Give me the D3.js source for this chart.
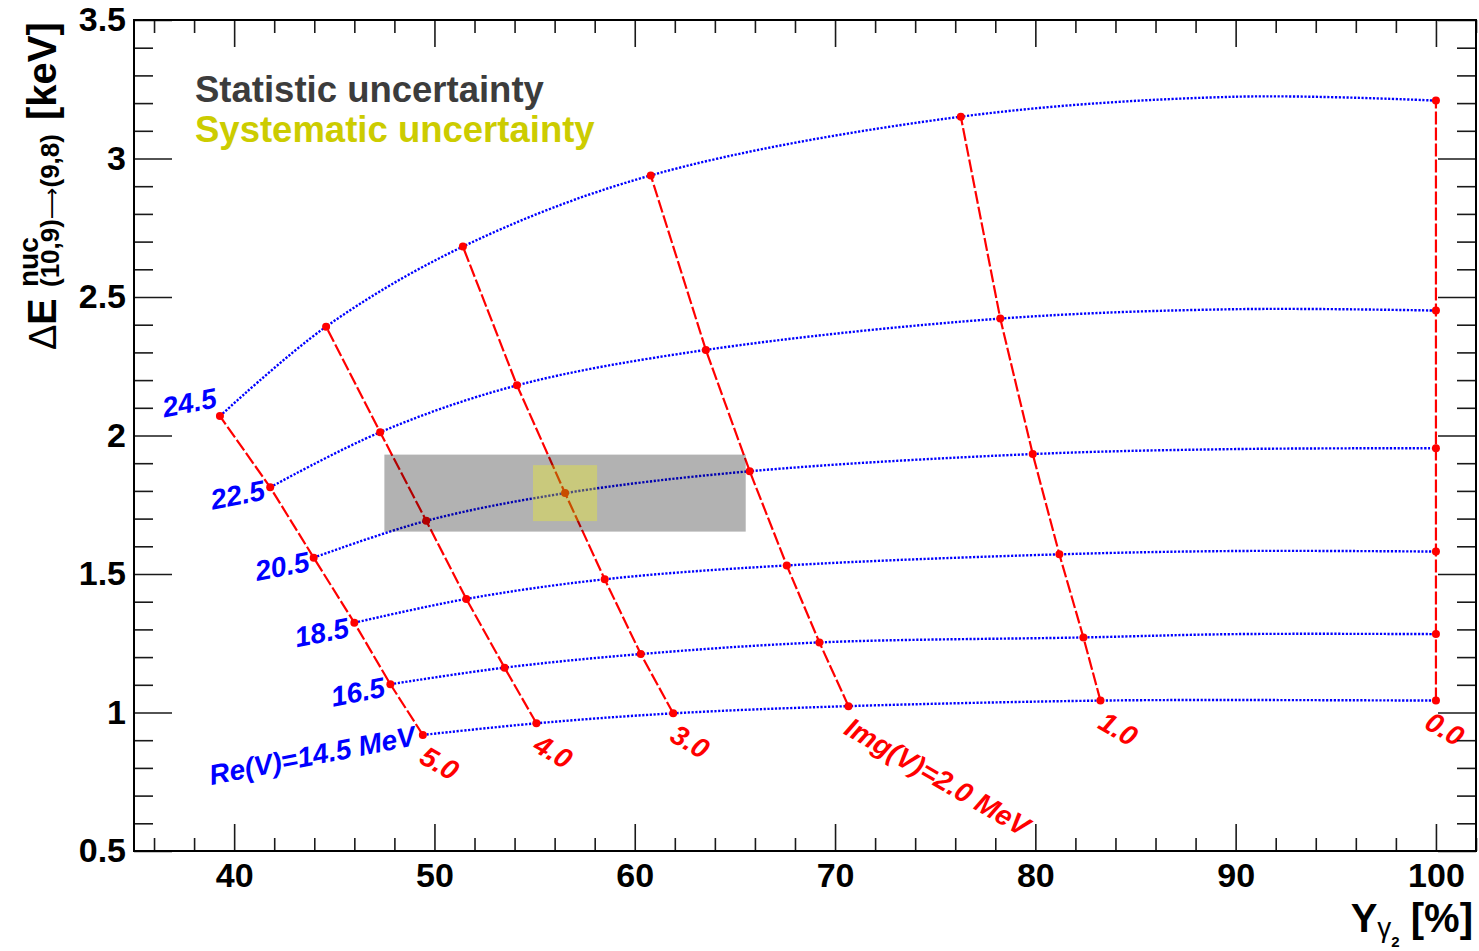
<!DOCTYPE html>
<html>
<head>
<meta charset="utf-8">
<script src="https://cdn.jsdelivr.net/npm/d3@7"></script>
<style>
  html, body { margin: 0; padding: 0; background: #fff; }
  svg { display: block; font-family: "Liberation Sans", Arial, Helvetica, sans-serif; }
</style>
</head>
<body>
<svg id="chart" width="1479" height="951"></svg>
<script>
// Grid of calculated energy shifts: curves of constant Re(V), lines of constant Img(V)
const reLevels  = [14.5, 16.5, 18.5, 20.5, 22.5, 24.5];
const imgLevels = [5.0, 4.0, 3.0, 2.0, 1.0, 0.0];

// Yield Y_gamma2 [%] and shift [keV] along each Re(V) curve, ordered by imgLevels
const yieldRe145 = [49.42, 55.09, 61.92, 70.67, 83.25, 100];
const shiftRe145 = [0.919, 0.961, 0.997, 1.023, 1.043, 1.043];
const yieldRe165 = [47.80, 53.50, 60.30, 69.22, 82.40, 100];
const shiftRe165 = [1.102, 1.162, 1.211, 1.253, 1.271, 1.283];
const yieldRe185 = [46.00, 51.59, 58.50, 67.59, 81.20, 100];
const shiftRe185 = [1.324, 1.410, 1.481, 1.531, 1.571, 1.581];
const yieldRe205 = [43.97, 49.59, 56.52, 65.74, 79.87, 100];
const shiftRe205 = [1.559, 1.692, 1.792, 1.871, 1.933, 1.954];
const yieldRe225 = [41.80, 47.29, 54.12, 63.55, 78.25, 100];
const shiftRe225 = [1.813, 2.012, 2.181, 2.309, 2.422, 2.451];
const yieldRe245 = [39.29, 44.59, 51.42, 60.80, 76.28, 100];
const shiftRe245 = [2.070, 2.393, 2.682, 2.939, 3.151, 3.209];

// Additional sample of each Re(V) curve between Img(V)=1.0 and Img(V)=0.0
const midYield = 90;
const midShift = [1.045, 1.283, 1.583, 1.951, 2.456, 3.223];

// Labels
const reLabels  = ["Re(V)=14.5 MeV", "16.5", "18.5", "20.5", "22.5", "24.5"];
const imgLabels = ["5.0", "4.0", "3.0", "Img(V)=2.0 MeV", "1.0", "0.0"];

// Measurement with statistical and systematic uncertainties
const measYield = 56.52, measShift = 1.792;
const statErrYield = 9.02, statErrShift = 0.139;
const sysErrYield = 1.60, sysErrShift = 0.101;

// Axes
const xMajorTicks = [40, 50, 60, 70, 80, 90, 100];
const xTickLabels = ["40", "50", "60", "70", "80", "90", "100"];
const yMajorTicks = [0.5, 1, 1.5, 2, 2.5, 3, 3.5];
const yTickLabels = ["0.5", "1", "1.5", "2", "2.5", "3", "3.5"];

// ---------------------------------------------------------------
const yields = [yieldRe145, yieldRe165, yieldRe185, yieldRe205, yieldRe225, yieldRe245];
const shifts = [shiftRe145, shiftRe165, shiftRe185, shiftRe205, shiftRe225, shiftRe245];

const frame = { left: 134, right: 1476, top: 20, bottom: 851 };
const x = d3.scaleLinear().domain([35, 102]).range([frame.left, frame.right]);
const y = d3.scaleLinear().domain([0.5, 3.5]).range([frame.bottom, frame.top]);

const svg = d3.select("#chart");
const BLUE = "#0000ff", RED = "#ff0000";

// --- Re(V) curves (blue, dotted, smooth)
const reLine = d3.line().x(d => x(d[0])).y(d => y(d[1])).curve(d3.curveCatmullRom.alpha(0.5));
const reCurves = reLevels.map((re, k) => {
  const pts = yields[k].map((v, i) => [v, shifts[k][i]]);
  pts.splice(pts.length - 1, 0, [midYield, midShift[k]]);
  return pts;
});
svg.append("g").selectAll("path").data(reCurves).join("path")
  .attr("d", reLine)
  .attr("fill", "none").attr("stroke", BLUE).attr("stroke-width", 2.4)
  .attr("stroke-dasharray", "2.2,1.6");

// --- Img(V) lines (red, dashed, straight)
const imgLine = d3.line().x(d => x(d[0])).y(d => y(d[1]));
const imgCurves = imgLevels.map((im, i) => reLevels.map((re, k) => [yields[k][i], shifts[k][i]]));
svg.append("g").selectAll("path").data(imgCurves).join("path")
  .attr("d", imgLine)
  .attr("fill", "none").attr("stroke", RED).attr("stroke-width", 2.2)
  .attr("stroke-dasharray", "13,3");

// --- grid nodes
const nodes = [];
reLevels.forEach((re, k) => imgLevels.forEach((im, i) => nodes.push([yields[k][i], shifts[k][i]])));
svg.append("g").selectAll("circle").data(nodes).join("circle")
  .attr("cx", d => x(d[0])).attr("cy", d => y(d[1])).attr("r", 4)
  .attr("fill", RED);

// --- uncertainty boxes
svg.append("rect")
  .attr("x", x(measYield - statErrYield)).attr("y", y(measShift + statErrShift))
  .attr("width", x(measYield + statErrYield) - x(measYield - statErrYield))
  .attr("height", y(measShift - statErrShift) - y(measShift + statErrShift))
  .attr("fill", "#000").attr("fill-opacity", 0.3);
svg.append("rect")
  .attr("x", x(measYield - sysErrYield)).attr("y", y(measShift + sysErrShift))
  .attr("width", x(measYield + sysErrYield) - x(measYield - sysErrYield))
  .attr("height", y(measShift - sysErrShift) - y(measShift + sysErrShift))
  .attr("fill", "#ffff00").attr("fill-opacity", 0.3);

// --- curve labels
const reNudge = [[-6, 10], [-4, 12], [-4, 14], [-3, 13], [-4, 12], [-2, -9]];
svg.append("g").selectAll("text").data(reLabels).join("text")
  .attr("transform", (d, k) => {
    const px = x(yields[k][0]) + reNudge[k][0], py = y(shifts[k][0]) + reNudge[k][1];
    return `translate(${px},${py}) rotate(-11)`;
  })
  .attr("text-anchor", "end").attr("font-size", 28).attr("font-weight", "bold")
  .attr("font-style", "italic").attr("fill", BLUE).text(d => d);

const imgNudge = [-5, -5, -5, -6, -4, -13];
svg.append("g").selectAll("text").data(imgLabels).join("text")
  .attr("transform", (d, i) => {
    const px = x(yieldRe145[i]) + imgNudge[i], py = y(shiftRe145[i]) + 27;
    return `translate(${px},${py}) rotate(30)`;
  })
  .attr("text-anchor", "start").attr("font-size", 28).attr("font-weight", "bold")
  .attr("font-style", "italic").attr("fill", RED).text(d => d);

// --- axes and frame
function styleAxis(g) {
  g.select(".domain").remove();
  g.selectAll(".tick line").attr("stroke", "#1a1a1a").attr("stroke-width", 1.6);
  g.selectAll(".tick text").attr("font-size", 34).attr("font-weight", "bold").attr("fill", "#000")
    .attr("font-family", "'Liberation Sans', Arial, Helvetica, sans-serif");
}
const xMinor = d3.range(36, 102.01, 2).filter(v => !xMajorTicks.includes(v));
const yMinor = d3.range(6, 35, 1).map(v => v / 10).filter(v => !yMajorTicks.includes(v));

svg.append("g").attr("transform", `translate(0,${frame.bottom})`)
  .call(d3.axisBottom(x).tickValues(xMajorTicks).tickFormat((d, i) => xTickLabels[i]).tickSize(-27).tickPadding(12))
  .call(styleAxis);
svg.append("g").attr("transform", `translate(0,${frame.bottom})`)
  .call(d3.axisBottom(x).tickValues(xMinor).tickFormat("").tickSize(-13)).call(styleAxis);
svg.append("g").attr("transform", `translate(0,${frame.top})`)
  .call(d3.axisTop(x).tickValues(xMajorTicks).tickFormat("").tickSize(-27)).call(styleAxis);
svg.append("g").attr("transform", `translate(0,${frame.top})`)
  .call(d3.axisTop(x).tickValues(xMinor).tickFormat("").tickSize(-13)).call(styleAxis);

svg.append("g").attr("transform", `translate(${frame.left},0)`)
  .call(d3.axisLeft(y).tickValues(yMajorTicks).tickFormat((d, i) => yTickLabels[i]).tickSize(-38).tickPadding(8))
  .call(styleAxis);
svg.append("g").attr("transform", `translate(${frame.left},0)`)
  .call(d3.axisLeft(y).tickValues(yMinor).tickFormat("").tickSize(-19)).call(styleAxis);
svg.append("g").attr("transform", `translate(${frame.right},0)`)
  .call(d3.axisRight(y).tickValues(yMajorTicks).tickFormat("").tickSize(-38)).call(styleAxis);
svg.append("g").attr("transform", `translate(${frame.right},0)`)
  .call(d3.axisRight(y).tickValues(yMinor).tickFormat("").tickSize(-19)).call(styleAxis);

svg.append("rect")
  .attr("x", frame.left).attr("y", frame.top)
  .attr("width", frame.right - frame.left).attr("height", frame.bottom - frame.top)
  .attr("fill", "none").attr("stroke", "#000").attr("stroke-width", 2);

// --- axis titles
const xt = svg.append("text").attr("x", 1473).attr("y", 932).attr("text-anchor", "end").attr("fill", "#000");
xt.append("tspan").attr("font-size", 40).attr("font-weight", "bold").text("Y");
xt.append("tspan").attr("font-size", 28).attr("dy", 5).text("γ");
xt.append("tspan").attr("font-size", 15).attr("font-weight", "bold").attr("dy", 10).text("2");
xt.append("tspan").attr("font-size", 40).attr("font-weight", "bold").attr("dy", -15).text(" [%]");

const yt = svg.append("text").attr("transform", "translate(55.7,350) rotate(-90)").attr("fill", "#000");
yt.append("tspan").attr("x", 0).attr("y", 0).attr("font-size", 38).text("Δ");
yt.append("tspan").attr("x", 25).attr("y", 0).attr("font-size", 40).attr("font-weight", "bold").text("E");
yt.append("tspan").attr("x", 63).attr("y", -17.7).attr("font-size", 28).attr("font-weight", "bold").text("nuc");
const sub = yt.append("tspan").attr("x", 63).attr("y", 3).attr("font-size", 26).attr("font-weight", "bold");
sub.append("tspan").text("(10,9)");
sub.append("tspan").attr("font-family", "'DejaVu Sans', sans-serif").attr("font-weight", "normal")
  .attr("font-size", 22).text("⟶");
sub.append("tspan").text("(9,8)");
yt.append("tspan").attr("x", 230).attr("y", 0).attr("font-size", 40).attr("font-weight", "bold").text("[keV]");

// --- legend
svg.append("text").attr("x", 195).attr("y", 102).attr("font-size", 36.5).attr("font-weight", "bold")
  .attr("fill", "#3c3c3c").text("Statistic uncertainty");
svg.append("text").attr("x", 195).attr("y", 142).attr("font-size", 36.5).attr("font-weight", "bold")
  .attr("fill", "#cccc00").text("Systematic uncertainty");
</script>
</body>
</html>
